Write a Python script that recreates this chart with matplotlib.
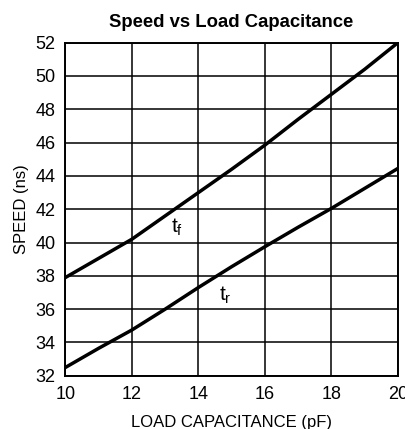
import numpy as np
import matplotlib.pyplot as plt
import matplotlib

matplotlib.rcParams["font.family"] = ["Liberation Sans", "DejaVu Sans"]

load_pf = [10, 11, 12, 13, 14, 15, 16, 17, 18, 19, 20]
t_fall = [37.9, 39.05, 40.2, 41.6, 43.0, 44.4, 45.85, 47.4, 48.9, 50.4, 52.0]
t_rise = [32.5, 33.65, 34.75, 36.0, 37.3, 38.55, 39.75, 40.92, 42.05, 43.25, 44.45]

fig = plt.figure(figsize=(4.06, 4.29), dpi=100)
ax = fig.add_axes([0.161, 0.124, 0.819, 0.7765])

ax.plot(load_pf, t_fall, color='black', lw=2.5, solid_joinstyle='round')
ax.plot(load_pf, t_rise, color='black', lw=2.5, solid_joinstyle='round')

ax.text(13.35, 40.9, '$\\mathregular{t_f}$', fontsize=15, ha='center', va='center')
ax.text(14.8, 36.85, '$\\mathregular{t_r}$', fontsize=15, ha='center', va='center')

ax.set_xlim(10, 20)
ax.set_ylim(32, 52)
ax.set_xticks(np.arange(10, 21, 2))
ax.set_yticks(np.arange(32, 53, 2))
ax.grid(True, color='black', lw=1.1)
ax.tick_params(length=0, labelsize=13, pad=7)
for s in ax.spines.values():
    s.set_linewidth(1.4)

ax.set_title('Speed vs Load Capacitance', fontsize=13.3, fontweight='bold', pad=11)
ax.set_xlabel('LOAD CAPACITANCE (pF)', fontsize=12, labelpad=9)
ax.set_ylabel('SPEED (ns)', fontsize=12, labelpad=5)

plt.savefig('out.png', dpi=100)
